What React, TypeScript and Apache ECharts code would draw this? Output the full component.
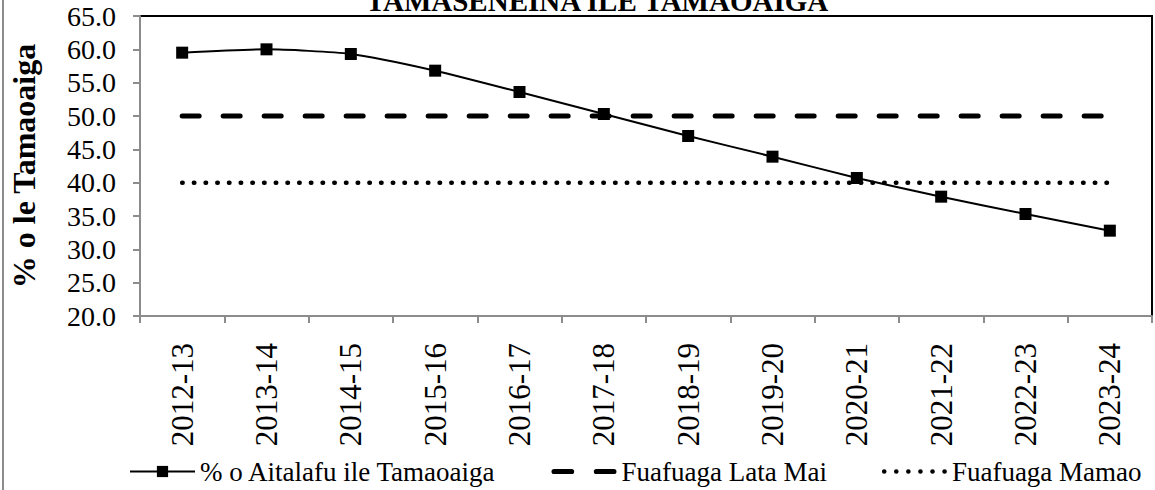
import React, { useEffect, useRef } from "react";
import * as echarts from "echarts";

const categories = [
  "2012-13", "2013-14", "2014-15", "2015-16", "2016-17", "2017-18",
  "2018-19", "2019-20", "2020-21", "2021-22", "2022-23", "2023-24",
];
const debtRatio = [59.5, 60.0, 59.3, 56.8, 53.6, 50.3, 47.0, 43.9, 40.7, 37.9, 35.3, 32.8];
const shortTermTarget = [50, 50, 50, 50, 50, 50, 50, 50, 50, 50, 50, 50];
const longTermTarget = [40, 40, 40, 40, 40, 40, 40, 40, 40, 40, 40, 40];
const seriesNames = ["% o Aitalafu ile Tamaoaiga", "Fuafuaga Lata Mai", "Fuafuaga Mamao"];
const titleText = "TAMASENEINA ILE TAMAOAIGA";
const yAxisName = "% o le Tamaoaiga";

const FONT = "'Liberation Serif', 'Times New Roman', serif";

const dashIcon =
  "path://M2.5 0h17a2.5 2.5 0 0 1 0 5h-17a2.5 2.5 0 0 1 0-5zM43.5 0h17a2.5 2.5 0 0 1 0 5h-17a2.5 2.5 0 0 1 0-5z";
const dotIcon =
  "path://" +
  [0, 1, 2, 3, 4, 5]
    .map((i) => {
      const cx = 2.25 + i * 11.7;
      return `M${cx - 2.25} 2.25a2.25 2.25 0 1 0 4.5 0a2.25 2.25 0 1 0 -4.5 0z`;
    })
    .join("");

export default function App() {
  const ref = useRef<HTMLDivElement>(null);
  useEffect(() => {
    if (!ref.current) return;
    const chart = echarts.init(ref.current, undefined, { renderer: "svg" });
    chart.setOption({
      animation: false,
      backgroundColor: "#ffffff",
      textStyle: { fontFamily: FONT, color: "#000" },
      graphic: [
        {
          type: "text",
          x: 597,
          y: 1,
          silent: true,
          style: {
            text: titleText,
            fontFamily: FONT,
            fontWeight: "bold",
            fontSize: 29,
            fill: "#000",
            align: "center",
            verticalAlign: "middle",
          },
        },
        {
          type: "line",
          silent: true,
          shape: { x1: 3, y1: 0, x2: 3, y2: 490 },
          style: { stroke: "#8c8c8c", lineWidth: 2 },
        },
      ],
      grid: {
        left: 137,
        right: 3,
        top: 16,
        bottom: 174,
        show: true,
        borderColor: "#000",
        borderWidth: 2,
        backgroundColor: "transparent",
      },
      legend: {
        left: 124,
        top: 453,
        itemWidth: 65,
        itemHeight: 14,
        itemGap: 55,
        textStyle: { fontFamily: FONT, fontSize: 27, color: "#000" },
        data: [
          { name: seriesNames[0] },
          { name: seriesNames[1], icon: dashIcon },
          { name: seriesNames[2], icon: dotIcon },
        ],
      },
      xAxis: {
        type: "category",
        data: categories,
        boundaryGap: true,
        axisLine: { show: true, lineStyle: { color: "#8c8c8c", width: 2 } },
        axisTick: { show: true, length: 7, alignWithLabel: false, lineStyle: { color: "#8c8c8c", width: 2 } },
        axisLabel: {
          rotate: 90,
          margin: 27,
          interval: 0,
          fontFamily: FONT,
          fontSize: 31,
          color: "#000",
        },
        splitLine: { show: false },
      },
      yAxis: {
        type: "value",
        min: 20,
        max: 65,
        interval: 5,
        name: yAxisName,
        nameLocation: "middle",
        nameRotate: 90,
        nameGap: 100,
        nameTextStyle: { fontFamily: FONT, fontSize: 32, fontWeight: "bold", color: "#000" },
        axisLine: { show: true, lineStyle: { color: "#8c8c8c", width: 2 } },
        axisTick: { show: true, length: 7, inside: false, lineStyle: { color: "#8c8c8c", width: 2 } },
        axisLabel: {
          margin: 24,
          fontFamily: FONT,
          fontSize: 28,
          color: "#000",
          formatter: (v: number) => v.toFixed(1),
        },
        splitLine: { show: false },
      },
      series: [
        {
          name: seriesNames[1],
          type: "line",
          data: shortTermTarget,
          symbol: "none",
          z: 2,
          lineStyle: { color: "#000", width: 5, type: [17, 24], cap: "round" },
          itemStyle: { color: "#000" },
        },
        {
          name: seriesNames[2],
          type: "line",
          data: longTermTarget,
          symbol: "none",
          z: 2,
          lineStyle: { color: "#000", width: 4.5, type: [0.5, 11.2], cap: "round" },
          itemStyle: { color: "#000" },
        },
        {
          name: seriesNames[0],
          type: "line",
          data: debtRatio,
          smooth: 0.2,
          symbol: "rect",
          symbolSize: 12,
          z: 5,
          lineStyle: { color: "#000", width: 2 },
          itemStyle: { color: "#000" },
        },
      ],
    });
    return () => chart.dispose();
  }, []);
  return (
    <div
      ref={ref}
      style={{ position: "absolute", left: 0, top: 0, width: 1155, height: 490, background: "#fff" }}
    />
  );
}
